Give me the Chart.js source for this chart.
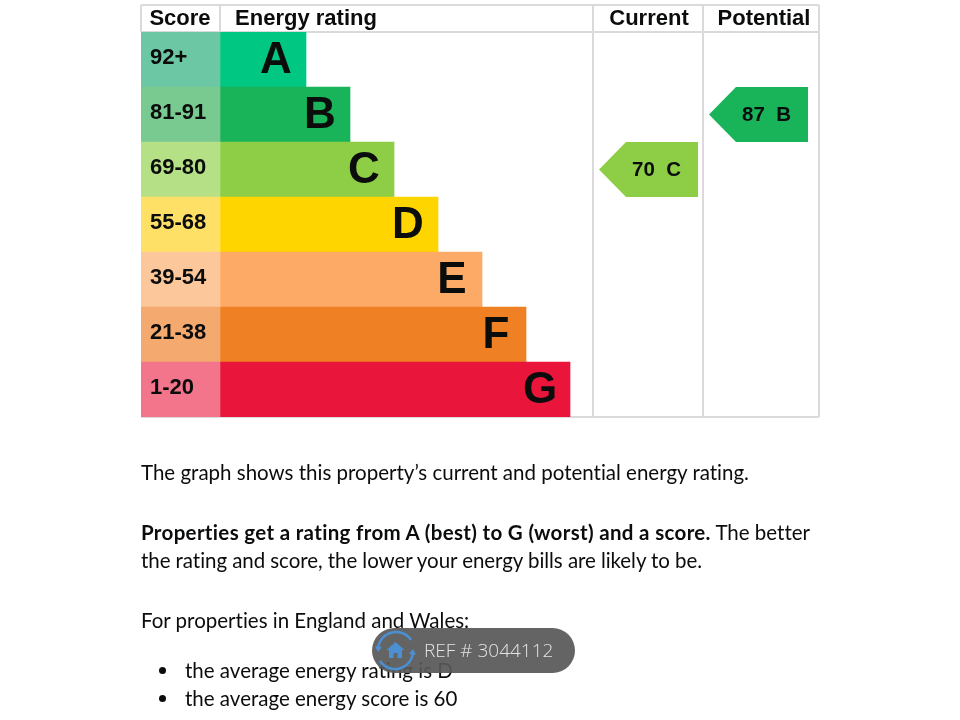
<!DOCTYPE html>
<html><head><meta charset="utf-8">
<script src="https://cdn.jsdelivr.net/npm/chart.js@4"></script>
<style>
html,body{margin:0;padding:0;background:#fff;width:960px;height:720px;overflow:hidden}
#c{position:absolute;left:0;top:0}
.t{position:absolute;left:141px;font:20.5px/28px Lato,sans-serif;color:#0b0c0c;white-space:nowrap;font-variant-ligatures:none}
.t b{font-weight:700;letter-spacing:.33px}
.dot{position:absolute;left:159px;width:7px;height:7px;border-radius:50%;background:#0b0c0c}
#badge{position:absolute;left:372px;top:628px;width:203px;height:45px;border-radius:23px;background:rgba(88,88,88,.93)}
#badge span{position:absolute;left:52px;top:10px;font:300 19px/24px "Open Sans",sans-serif;color:#e4e4e4;white-space:nowrap}
#badge svg{position:absolute;left:0;top:0}
</style></head><body>
<canvas id="c" width="960" height="720"></canvas>
<div class="t" style="top:458px">The graph shows this property’s current and potential energy rating.</div>
<div class="t" style="top:518px"><b>Properties get a rating from A (best) to G (worst) and a score.</b> The better</div>
<div class="t" style="top:546px;letter-spacing:-.06px">the rating and score, the lower your energy bills are likely to be.</div>
<div class="t" style="top:606px">For properties in England and Wales:</div>
<div class="dot" style="top:667px"></div>
<div class="t" style="top:656px;left:185px">the average energy rating is D</div>
<div class="dot" style="top:695px"></div>
<div class="t" style="top:684px;left:185px">the average energy score is 60</div>
<div id="badge"><svg width="52" height="45" viewBox="0 0 52 45">
<path d="M6 22a18 18 0 0 1 33-10M41 23a18 18 0 0 1-33 10" fill="none" stroke="#4a90d2" stroke-width="2.500"/>
<path d="M3 18l3 6 4-5zM44 27l-3-6-4 5z" fill="#4a90d2"/>
<path d="M23.500 14l9 8h-2.500v8h-4.500v-5h-4v5h-4.500v-8h-2.500z" fill="#4a90d2"/>
</svg><span>REF # 3044112</span></div>
<script>
const bands = ['A','B','C','D','E','F','G'];
const scoreLabels = ['92+','81-91','69-80','55-68','39-54','21-38','1-20'];
const scoreCell = [79,79,79,79,79,79,79];
const ratingBar = [86,130,174,218,262,306,350];
const ratingColors = ['#00c781','#19b459','#8dce46','#ffd500','#fcaa65','#ef8023','#e9153b'];
const scoreColors = ['#6cc7a5','#78ca90','#b5e086','#ffe066','#fdc79c','#f4a96f','#f2758c'];
const headerLabels = ['Score','Energy rating','Current','Potential'];
const headerTicks = [39,165,508,623];
const columnLines = [452,562,678];
const currentScore = 70, currentBand = 'C', currentCenter = 507.5;
const potentialScore = 87, potentialBand = 'B', potentialCenter = 617.5;
const LETTER_FONT = 'bold 44px "Liberation Sans"';
const VALUE_FONT = 'bold 20.5px "Liberation Sans"';
const LINE = '#dadadd';

function arrow(color){
  const k=document.createElement('canvas');k.width=99;k.height=55;
  const g=k.getContext('2d');g.fillStyle=color;g.beginPath();
  g.moveTo(0,27.5);g.lineTo(27,0);g.lineTo(99,0);g.lineTo(99,55);g.lineTo(27,55);g.closePath();g.fill();
  return k;
}
const colorOf = b => ratingColors[bands.indexOf(b)];

const overlay = {
  id:'overlay',
  beforeDatasetsDraw(ch){
    const c=ch.ctx,a=ch.chartArea,xs=ch.scales.xCols;
    c.save();c.strokeStyle=LINE;c.lineWidth=2;c.beginPath();
    c.moveTo(a.left,5);c.lineTo(a.right,5);
    c.moveTo(a.left,a.top);c.lineTo(a.right,a.top);
    c.moveTo(a.left,a.bottom);c.lineTo(a.right,a.bottom);
    c.moveTo(a.left,5);c.lineTo(a.left,a.top);
    const sep=xs.getPixelForValue(scoreCell[0]);
    c.moveTo(sep,5);c.lineTo(sep,a.top);
    columnLines.forEach(v=>{const p=xs.getPixelForValue(v);c.moveTo(p,5);c.lineTo(p,a.top);});
    c.stroke();c.restore();
  },
  afterDatasetsDraw(ch){
    const c=ch.ctx,meta=ch.getDatasetMeta(1);
    c.save();c.fillStyle='#0b0c0c';c.textBaseline='middle';c.textAlign='center';
    c.font=LETTER_FONT;
    meta.data.forEach((el,i)=>c.fillText(bands[i],el.x-30,el.y+1.5));
    c.font=VALUE_FONT;
    [[2,currentScore,currentBand],[3,potentialScore,potentialBand]].forEach(([d,s,b])=>{
      const p=ch.getDatasetMeta(d).data[0];
      c.fillText(s+'\u00a0\u00a0'+b,p.x+8,p.y+1);
    });
    c.restore();
  }
};

new Chart(document.getElementById('c'),{
  type:'bar',
  data:{labels:bands,datasets:[
    {label:'Score',data:scoreCell,backgroundColor:scoreColors,xAxisID:'x',yAxisID:'y',barPercentage:1,categoryPercentage:1,order:3},
    {label:'Energy rating',data:ratingBar,backgroundColor:ratingColors,xAxisID:'x',yAxisID:'y',barPercentage:1,categoryPercentage:1,order:3},
    {type:'line',label:'Current',data:[{x:currentCenter,y:currentBand}],showLine:false,xAxisID:'xCols',yAxisID:'y',clip:false,pointStyle:arrow(colorOf(currentBand)),pointRadius:10,order:1},
    {type:'line',label:'Potential',data:[{x:potentialCenter,y:potentialBand}],showLine:false,xAxisID:'xCols',yAxisID:'y',clip:false,pointStyle:arrow(colorOf(potentialBand)),pointRadius:10,order:1}
  ]},
  plugins:[overlay],
  options:{
    indexAxis:'y',responsive:false,animation:false,
    events:[],
    layout:{padding:{left:141,right:141,top:0,bottom:303}},
    plugins:{legend:{display:false},tooltip:{enabled:false},title:{display:false}},
    scales:{
      x:{type:'linear',position:'top',stacked:true,min:0,max:678,
        afterFit(s){s.height=32;},
        afterBuildTicks(s){s.ticks=headerTicks.map(v=>({value:v}));},
        grid:{display:false,tickLength:0},border:{display:false},
        ticks:{autoSkip:false,maxRotation:0,padding:0,color:'#0b0c0c',font:{family:'"Liberation Sans"',size:22,weight:'bold'},
          callback:(v,i)=>headerLabels[i]}},
      xCols:{type:'linear',position:'bottom',min:0,max:678,
        afterFit(s){s.height=0;},
        afterBuildTicks(s){s.ticks=columnLines.map(v=>({value:v}));},
        grid:{color:LINE,lineWidth:2,drawTicks:false},border:{display:false},
        ticks:{display:false}},
      y:{type:'category',position:'left',stacked:true,reverse:false,
        afterFit(s){s.width=0;},
        grid:{display:false},border:{display:false},
        ticks:{z:2,mirror:true,padding:9,labelOffset:-2,color:'#0b0c0c',font:{family:'"Liberation Sans"',size:22,weight:'bold'},
          callback:(v,i)=>scoreLabels[i]}}
    }
  }
});
</script>
</body></html>
